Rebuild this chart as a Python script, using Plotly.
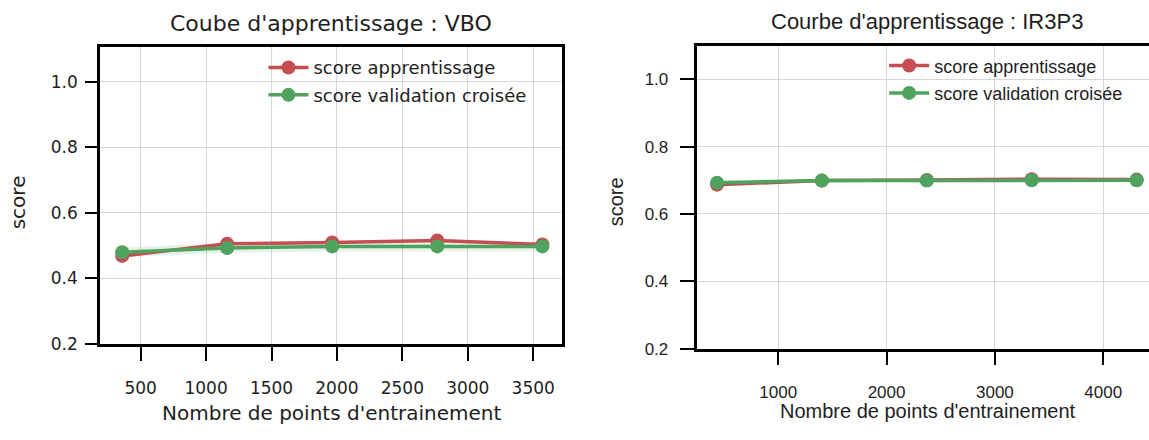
import plotly.graph_objects as go

# ---- data ----
sizes_vbo = [359, 1161, 1964, 2767, 3570]
train_vbo = [0.468, 0.505, 0.509, 0.515, 0.503]
cv_vbo = [0.479, 0.492, 0.497, 0.497, 0.497]
train_std_vbo = [0.004, 0.004, 0.004, 0.004, 0.003]
cv_std_vbo = [0.015, 0.015, 0.015, 0.015, 0.015]

sizes_ir = [435, 1403, 2372, 3340, 4309]
train_ir = [0.687, 0.699, 0.701, 0.703, 0.702]
cv_ir = [0.693, 0.699, 0.699, 0.700, 0.700]
train_std_ir = [0.003, 0.002, 0.002, 0.002, 0.002]
cv_std_ir = [0.006, 0.005, 0.005, 0.005, 0.005]

y_ticks = [0.2, 0.4, 0.6, 0.8, 1.0]
x_ticks_vbo = [500, 1000, 1500, 2000, 2500, 3000, 3500]
x_ticks_ir = [1000, 2000, 3000, 4000]

RED = "#c44e52"
GREEN = "#4fa35e"
RED_FILL = "rgba(196,78,82,0.10)"
GREEN_FILL = "rgba(85,168,104,0.15)"

fig = go.Figure()


def add_panel(sizes, train, cv, tstd, cstd, xa, ya, legend):
    for vals, std, fill in ((train, tstd, RED_FILL), (cv, cstd, GREEN_FILL)):
        lo = [v - s for v, s in zip(vals, std)]
        hi = [v + s for v, s in zip(vals, std)]
        fig.add_trace(go.Scatter(x=sizes, y=lo, mode="lines", line=dict(width=0),
                                 showlegend=False, hoverinfo="skip", xaxis=xa, yaxis=ya))
        fig.add_trace(go.Scatter(x=sizes, y=hi, mode="lines", line=dict(width=0),
                                 fill="tonexty", fillcolor=fill, showlegend=False,
                                 hoverinfo="skip", xaxis=xa, yaxis=ya))
    fig.add_trace(go.Scatter(x=sizes, y=train, mode="lines+markers", name="score apprentissage",
                             line=dict(color=RED, width=3.5), marker=dict(color=RED, size=14),
                             xaxis=xa, yaxis=ya, legend=legend, legendgroup="a"))
    fig.add_trace(go.Scatter(x=sizes, y=cv, mode="lines+markers", name="score validation croisée",
                             line=dict(color=GREEN, width=3.5), marker=dict(color=GREEN, size=14),
                             xaxis=xa, yaxis=ya, legend=legend, legendgroup="b"))


add_panel(sizes_vbo, train_vbo, cv_vbo, train_std_vbo, cv_std_vbo, "x", "y", "legend")
add_panel(sizes_ir, train_ir, cv_ir, train_std_ir, cv_std_ir, "x2", "y2", "legend2")

F1 = "DejaVu Sans"
F2 = "Liberation Sans, Arial"
GRID = "#d3d8de"
TXT = "#1e1e1e"

axis_common = dict(showgrid=True, gridcolor=GRID, gridwidth=1.2, zeroline=False,
                   showline=True, linecolor="black", linewidth=2.5,
                   ticks="outside", tickcolor="black", tickwidth=2)

fig.update_layout(
    width=1149, height=440,
    margin=dict(l=0, r=0, t=0, b=0),
    paper_bgcolor="white", plot_bgcolor="white",
    showlegend=True,
    xaxis=dict(domain=[0.087, 0.489], range=[189, 3719], tickvals=x_ticks_vbo,
               ticklen=15, ticklabelstandoff=12, mirror=True,
               tickfont=dict(family=F1, size=17, color=TXT), **axis_common),
    yaxis=dict(domain=[0.2007, 0.8902], range=[0.2, 1.105], tickvals=y_ticks, tickformat=".1f",
               ticklen=12, ticklabelstandoff=4, mirror=True,
               tickfont=dict(family=F1, size=17, color=TXT), **axis_common),
    xaxis2=dict(domain=[0.607, 1.0], range=[254, 4423], tickvals=x_ticks_ir,
                ticklen=14, ticklabelstandoff=12, mirror=True, anchor="y2",
                tickfont=dict(family=F2, size=17, color=TXT), **axis_common),
    yaxis2=dict(domain=[0.1893, 0.8939], range=[0.2, 1.1], tickvals=y_ticks, tickformat=".1f",
                ticklen=15, ticklabelstandoff=8, mirror=False, anchor="x2",
                tickfont=dict(family=F2, size=17, color=TXT), **axis_common),
    legend=dict(x=0.2293, xanchor="left", y=0.8855, yanchor="top", bgcolor="rgba(0,0,0,0)",
                font=dict(family=F1, size=18, color=TXT), traceorder="grouped",
                tracegroupgap=1, itemwidth=40),
    legend2=dict(x=0.7695, xanchor="left", y=0.89, yanchor="top", bgcolor="rgba(0,0,0,0)",
                 font=dict(family=F2, size=18, color=TXT), traceorder="grouped",
                 tracegroupgap=1, itemwidth=40),
)

annos = [
    dict(text="Coube d'apprentissage : VBO", x=331, y=24, font=dict(family=F1, size=22, color=TXT)),
    dict(text="Nombre de points d'entrainement", x=331, y=423, font=dict(family=F1, size=20, color=TXT)),
    dict(text="score", x=18, y=207, textangle=-90, font=dict(family=F1, size=20, color=TXT)),
    dict(text="Courbe d'apprentissage : IR3P3", x=927, y=22, font=dict(family=F2, size=22, color=TXT)),
    dict(text="Nombre de points d'entrainement", x=928, y=421, font=dict(family=F2, size=20, color=TXT)),
    dict(text="score", x=616, y=207, textangle=-90, font=dict(family=F2, size=20, color=TXT)),
]
for a in annos:
    fig.add_annotation(text=a["text"], x=a["x"] / 1149, y=1 - a["y"] / 440,
                       xref="paper", yref="paper", xanchor="center", yanchor="middle",
                       showarrow=False, font=a["font"], textangle=a.get("textangle", 0))

fig.write_html("out.html", config={"displayModeBar": False},
               post_script="document.body.style.margin='0px';document.body.style.overflow='hidden';")
